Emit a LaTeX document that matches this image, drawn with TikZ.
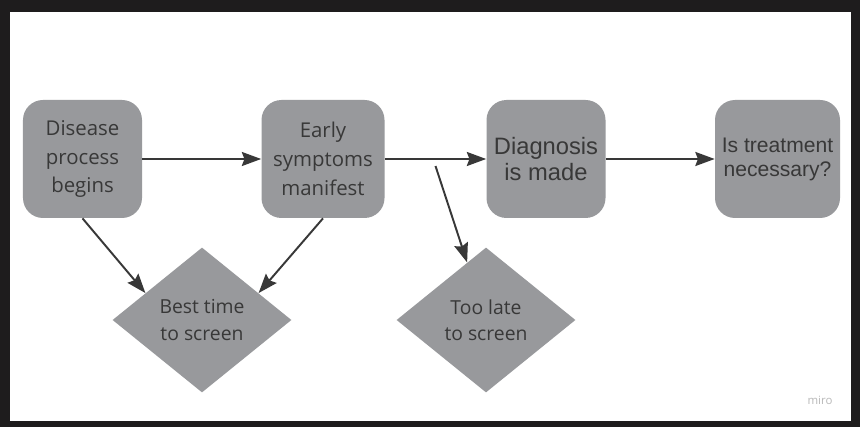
\documentclass[tikz,border=0pt]{standalone}
\usepackage{fontspec}
\newfontfamily\opensans{Open Sans}
\newfontfamily\arialfont{Liberation Sans}
\usetikzlibrary{shapes.geometric,arrows.meta,calc}
\definecolor{boxgray}{HTML}{98999C}
\definecolor{inkgray}{HTML}{383838}
\definecolor{framegray}{HTML}{1E1C1D}
\begin{document}
\begin{tikzpicture}[
  box/.style={fill=boxgray, rounded corners=0.4cm, minimum width=2.38cm, minimum height=2.36cm, align=center, text=inkgray, inner sep=1pt},
  gem/.style={diamond, fill=boxgray, minimum width=3.58cm, minimum height=2.9cm, inner sep=0pt, align=center, text=inkgray, font=\opensans\fontsize{11}{15}\selectfont},
  arr/.style={-{Stealth[length=11pt, width=8pt, inset=1.5pt]}, line width=1.1pt, draw=inkgray}
]
\fill[framegray] (0,0) rectangle (17.2,8.54);
\fill[white] (0.2,0.12) rectangle (17.02,8.3);
\node[box, font=\opensans\fontsize{11.6}{16.4}\selectfont] (dis) at (1.65,5.36) {Disease\\process\\begins};
\node[box, minimum width=2.46cm, font=\opensans\fontsize{11.6}{16.4}\selectfont] (ear) at (6.46,5.36) {Early\\symptoms\\manifest};
\node[box, font=\arialfont\fontsize{13.5}{14.4}\selectfont] (dia) at (10.92,5.36) {Diagnosis\\is made};
\node[box, minimum width=2.5cm, font=\arialfont\fontsize{12}{13.6}\selectfont] (trt) at (15.55,5.36) {Is treatment\\necessary?};
\node[gem] (best) at (4.04,2.14) {Best time\\to screen};
\node[gem] (late) at (9.72,2.14) {Too late\\to screen};
\node[text=gray!55, font=\opensans\fontsize{6.5}{7}\selectfont] (miro) at (16.4,0.54) {miro};
\draw[arr] (dis) -- (ear);
\draw[arr] (ear) -- (dia);
\draw[arr] (dia) -- (trt);
\draw[arr] (dis.south) -- ($(best.west)!0.37!(best.north)$);
\draw[arr] (ear.south) -- ($(best.east)!0.37!(best.north)$);
\coordinate (split) at ($(ear.east)!0.5!(dia.west)+(0,-0.14)$);
\draw[arr] (split) -- ($(late.west)!0.79!(late.north)$);
\end{tikzpicture}
\end{document}
